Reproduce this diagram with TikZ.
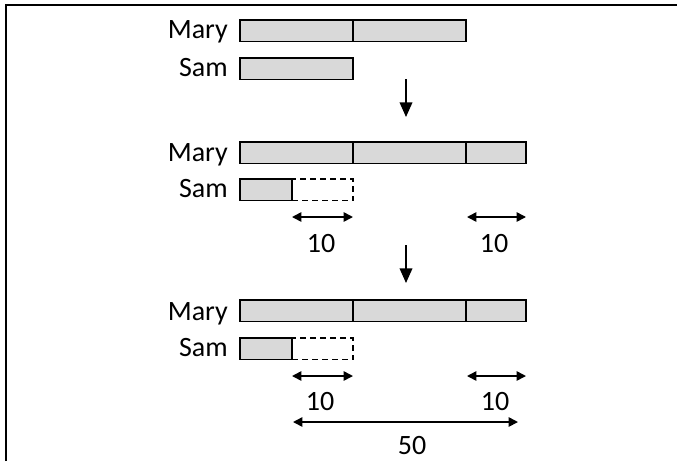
\documentclass[tikz,border=0pt]{standalone}
\usepackage{fontspec}
\setmainfont{Carlito}
\usetikzlibrary{arrows.meta}
\definecolor{barfill}{HTML}{D9D9D9}
\begin{document}
\begin{tikzpicture}[x=0.75pt,y=-0.75pt,
  seg/.style={draw=black, line width=1.4pt, fill=barfill, inner sep=0pt, outer sep=0pt, anchor=north west, minimum height={21.5*0.75pt}, minimum width={#1*0.75pt}},
  gapbox/.style={seg=#1, fill=none, line width=1.1pt, dash pattern=on 4.5pt off 3pt},
  lbl/.style={font=\fontsize{21}{25}\selectfont, inner sep=0pt, anchor=base east},
  num/.style={font=\fontsize{21}{25}\selectfont, inner sep=0pt, anchor=base},
  steparrow/.style={line width=1.2pt, -{Triangle[width=9.5pt,length=11pt]}},
  dimarrow/.style={line width=1.2pt, {Triangle[width=7pt,length=7pt]}-{Triangle[width=7pt,length=7pt]}},
]
\useasboundingbox (0,0) rectangle (677,461);
\draw[line width=1.6pt] (6,461) -- (6,5) -- (677,5);

% row 1
\node[seg=113] (m1a) at (240,20) {};
\node[seg=113] (m1b) at (353,20) {};
\node[seg=113] (s1) at (240,58) {};
\node[lbl] (lm1) at (228,38) {Mary};
\node[lbl] (ls1) at (228,76) {Sam};

\coordinate (a1s) at (406,79);
\coordinate (a1e) at (406,117);
\draw[steparrow] (a1s) -- (a1e);

% row 2
\node[seg=113] (m2a) at (240,142) {};
\node[seg=113] (m2b) at (353,142) {};
\node[seg=60] (m2c) at (466,142) {};
\node[gapbox=61] (s2g) at (292,179) {};
\node[seg=52] (s2) at (240,179) {};
\node[lbl] (lm2) at (228,161) {Mary};
\node[lbl] (ls2) at (228,197) {Sam};
\coordinate (d2a) at (292,217);
\coordinate (d2b) at (353,217);
\coordinate (d2c) at (467,217);
\coordinate (d2d) at (526,217);
\draw[dimarrow] (d2a) -- (d2b);
\draw[dimarrow] (d2c) -- (d2d);
\node[num] (n2a) at (321,252) {10};
\node[num] (n2b) at (494,252) {10};

\coordinate (a2s) at (406,245);
\coordinate (a2e) at (406,283);
\draw[steparrow] (a2s) -- (a2e);

% row 3
\node[seg=113] (m3a) at (240,300) {};
\node[seg=113] (m3b) at (353,300) {};
\node[seg=60] (m3c) at (466,300) {};
\node[gapbox=61] (s3g) at (292,338) {};
\node[seg=52] (s3) at (240,338) {};
\node[lbl] (lm3) at (228,320) {Mary};
\node[lbl] (ls3) at (228,356) {Sam};
\coordinate (d3a) at (292,376);
\coordinate (d3b) at (353,376);
\coordinate (d3c) at (467,376);
\coordinate (d3d) at (526,376);
\draw[dimarrow] (d3a) -- (d3b);
\draw[dimarrow] (d3c) -- (d3d);
\node[num] (n3a) at (320,410) {10};
\node[num] (n3b) at (495,410) {10};
\coordinate (d3e) at (293,422);
\coordinate (d3f) at (518,422);
\draw[dimarrow] (d3e) -- (d3f);
\node[num] (n3c) at (412,454) {50};
\end{tikzpicture}
\end{document}
